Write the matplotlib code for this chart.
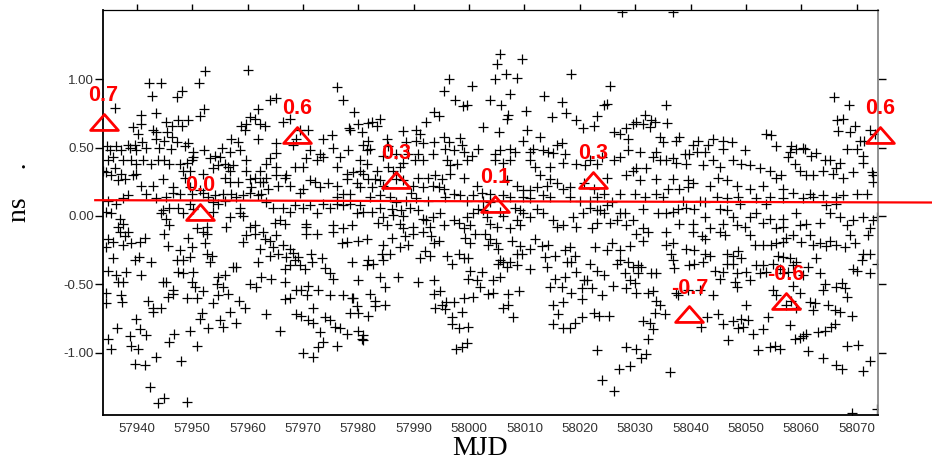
import numpy as np
import matplotlib
matplotlib.use('Agg')
import matplotlib.pyplot as plt
from matplotlib.path import Path
from matplotlib.ticker import MultipleLocator, FixedLocator, FormatStrFormatter

# ---- clock residuals (MJD, ns) ----
# MJD 57934-57981, upper part
mjd_1 = [
    57960.0, 57952.3, 57942.2, 57944.3, 57951.2, 57948.2, 57947.2, 57942.8, 57936.1, 57940.7,
    57943.5, 57952.2, 57951.4, 57945.3, 57946.4, 57947.5, 57948.1, 57949.3, 57940.7, 57939.3,
    57940.2, 57942.9, 57943.5, 57945.5, 57946.4, 57943.5, 57945.0, 57947.2, 57949.3, 57941.0,
    57939.6, 57938.7, 57938.4, 57936.3, 57934.6, 57935.1, 57937.2, 57939.9, 57941.7, 57944.1,
    57946.2, 57948.7, 57950.2, 57952.1, 57955.3, 57957.1, 57958.3, 57958.6, 57956.8, 57955.0,
    57954.1, 57953.2, 57950.2, 57949.9, 57949.0, 57947.8, 57945.9, 57945.0, 57943.8, 57942.6,
    57941.1, 57939.9, 57939.0, 57937.5, 57935.7, 57934.8, 57933.9, 57936.0, 57937.2, 57939.3,
    57939.9, 57937.8, 57936.6, 57935.4, 57934.5, 57940.8, 57942.9, 57944.7, 57946.6, 57946.6,
    57948.4, 57949.6, 57948.7, 57949.6, 57952.0, 57953.8, 57954.7, 57955.9, 57956.5, 57957.4,
    57959.8, 57956.8, 57955.9, 57956.8, 57958.3, 57959.8, 57961.3, 57962.2, 57960.4, 57960.7,
    57962.8, 57963.4, 57965.2, 57966.7, 57965.5, 57963.7, 57962.5, 57961.9, 57960.4, 57959.2,
    57958.0, 57957.1, 57955.6, 57954.1, 57952.9, 57952.0, 57951.4, 57949.9, 57947.8, 57945.3,
    57943.5, 57941.7, 57938.4, 57937.5, 57934.8, 57936.3, 57934.5, 57935.4, 57936.9, 57937.5,
    57936.6, 57945.9, 57945.3, 57944.4, 57944.7, 57945.9, 57947.5, 57948.4, 57949.6, 57950.2,
    57950.8, 57952.6, 57953.8, 57953.8, 57954.7, 57955.9, 57956.8, 57958.6, 57958.6, 57959.2,
    57960.4, 57961.3, 57956.2, 57963.4, 57964.6, 57966.4, 57967.6, 57968.5, 57964.9, 57965.8,
    57966.7, 57970.0, 57971.2, 57972.5, 57973.7, 57974.9, 57976.1, 57977.3, 57978.5, 57980.3,
    57979.7, 57978.8, 57977.3, 57975.5, 57970.6, 57970.6, 57964.0, 57965.2, 57961.9, 57960.4,
    57961.3, 57958.9, 57959.5, 57961.9, 57959.8, 57962.2, 57963.1, 57965.2, 57966.4, 57967.6,
    57969.4, 57970.9, 57968.8, 57968.2, 57971.2, 57973.1, 57973.7, 57976.1, 57977.2, 57979.2,
    57980.0, 57978.4, 57978.5, 57980.6, 57975.2, 57975.5, 57973.7, 57978.2, 57976.7, 57976.1,
    57977.9, 57979.1, 57980.3, 57980.3, 57972.5, 57970.6, 57970.0, 57968.5, 57967.0, 57965.2,
    57963.4, 57962.2, 57964.0, 57965.2, 57970.0, 57971.2, 57972.1, 57973.1, 57974.6, 57976.1,
    57977.9, 57979.7, 57977.3, 57976.1, 57978.5, 57980.3, 57967.6, 57969.4,
]
ns_1 = [
    1.07, 1.06, 0.97, 0.97, 0.97, 0.91, 0.87, 0.88, 0.79, 0.74,
    0.75, 0.78, 0.73, 0.69, 0.66, 0.70, 0.66, 0.70, 0.67, 0.65,
    0.60, 0.63, 0.61, 0.61, 0.58, 0.56, 0.55, 0.54, 0.53, 0.54,
    0.52, 0.50, 0.52, 0.51, 0.51, 0.48, 0.48, 0.48, 0.50, 0.50,
    0.49, 0.51, 0.47, 0.48, 0.50, 0.56, 0.54, 0.48, 0.47, 0.43,
    0.44, 0.42, 0.43, 0.41, 0.39, 0.38, 0.38, 0.41, 0.41, 0.38,
    0.41, 0.38, 0.41, 0.41, 0.43, 0.41, 0.33, 0.35, 0.31, 0.30,
    0.31, 0.27, 0.26, 0.30, 0.32, 0.22, 0.22, 0.27, 0.21, 0.17,
    0.33, 0.33, 0.28, 0.21, 0.31, 0.35, 0.37, 0.38, 0.36, 0.37,
    0.41, 0.33, 0.28, 0.25, 0.25, 0.33, 0.28, 0.25, 0.27, 0.21,
    0.25, 0.28, 0.30, 0.28, 0.22, 0.20, 0.16, 0.15, 0.17, 0.15,
    0.14, 0.16, 0.16, 0.15, 0.14, 0.17, 0.19, 0.16, 0.16, 0.14,
    0.13, 0.16, 0.15, 0.13, 0.11, 0.09, 0.03, 0.02, -0.02, -0.06,
    -0.08, -0.07, -0.02, 0.02, 0.04, 0.06, 0.06, 0.02, 0.09, 0.05,
    -0.09, -0.08, 0.03, 0.10, 0.09, 0.11, -0.01, 0.06, 0.02, 0.00,
    -0.08, -0.07, -0.08, 0.10, 0.06, 0.06, 0.03, 0.08, -0.05, -0.03,
    -0.06, 0.06, 0.08, 0.02, 0.09, 0.06, 0.09, 0.08, 0.09, 0.08,
    0.02, -0.07, -0.09, -0.07, -0.08, -0.06, 0.85, 0.86, 0.78, 0.72,
    0.71, 0.66, 0.63, 0.56, 0.67, 0.67, 0.66, 0.53, 0.69, 0.71,
    0.63, 0.63, 0.56, 0.52, 0.48, 0.45, 0.43, 0.94, 0.85, 0.76,
    0.67, 0.64, 0.63, 0.61, 0.59, 0.50, 0.56, 0.48, 0.43, 0.36,
    0.31, 0.32, 0.41, 0.33, 0.41, 0.42, 0.36, 0.36, 0.30, 0.36,
    0.38, 0.33, 0.42, 0.46, 0.20, 0.26, 0.25, 0.21, 0.24, 0.22,
    0.27, 0.24, 0.16, 0.14, 0.16, 0.21, 0.22, 0.17,
]

# MJD 57934-57981, lower part
mjd_2 = [
    57934.8, 57935.7, 57934.5, 57936.9, 57938.4, 57937.8, 57937.5, 57939.0, 57940.5, 57941.4,
    57945.0, 57949.3, 57952.0, 57952.6, 57952.3, 57945.6, 57947.8, 57949.9, 57952.6, 57953.5,
    57953.2, 57948.4, 57947.2, 57949.6, 57935.7, 57939.6, 57940.4, 57942.6, 57934.8, 57936.3,
    57938.1, 57940.8, 57936.6, 57937.5, 57944.7, 57945.3, 57947.5, 57948.4, 57950.2, 57949.9,
    57950.5, 57952.0, 57946.6, 57946.6, 57945.6, 57949.0, 57950.8, 57953.8, 57954.7, 57955.9,
    57954.4, 57955.6, 57954.7, 57956.5, 57958.5, 57959.5, 57957.4, 57958.0, 57961.9, 57960.4,
    57961.6, 57962.5, 57964.3, 57966.7, 57963.4, 57965.8, 57934.5, 57937.2, 57937.4, 57934.5,
    57942.0, 57942.9, 57944.4, 57942.9, 57939.9, 57936.4, 57940.5, 57941.7, 57938.7, 57934.8,
    57935.4, 57939.0, 57940.2, 57945.9, 57946.8, 57949.7, 57952.9, 57951.8, 57951.4, 57955.0,
    57955.6, 57956.8, 57958.0, 57939.6, 57941.4, 57943.4, 57947.9, 57950.9, 57942.3, 57944.9,
    57943.8, 57949.0, 57959.2, 57959.8, 57961.3, 57962.8, 57963.1, 57962.2, 57964.0, 57965.2,
    57964.6, 57966.4, 57967.6, 57964.0, 57965.5, 57967.0, 57968.2, 57969.1, 57968.5, 57971.5,
    57973.4, 57971.7, 57969.4, 57970.3, 57966.7, 57967.6, 57973.9, 57974.9, 57975.5, 57978.8,
    57980.0, 57970.6, 57972.5, 57975.5, 57977.0, 57977.9, 57980.0, 57968.8, 57969.7, 57970.9,
    57972.7, 57974.9, 57977.3, 57978.8, 57970.7, 57966.7, 57967.6, 57971.8, 57968.8, 57969.7,
    57970.9, 57971.8, 57973.9, 57974.9, 57975.8, 57976.7, 57977.9, 57973.1, 57980.0, 57980.0,
    57980.6, 57973.7, 57972.7, 57976.1, 57970.0, 57971.8, 57979.7, 57978.5, 57979.1,
]
ns_2 = [
    -0.17, -0.19, -0.23, -0.12, -0.12, -0.15, -0.21, -0.20, -0.19, -0.16,
    -0.13, -0.16, -0.12, -0.13, -0.20, -0.22, -0.25, -0.23, -0.28, -0.29,
    -0.34, -0.32, -0.32, -0.30, -0.31, -0.32, -0.30, -0.34, -0.40, -0.43,
    -0.41, -0.43, -0.48, -0.48, -0.48, -0.48, -0.41, -0.42, -0.41, -0.48,
    -0.52, -0.55, -0.54, -0.57, -0.59, -0.60, -0.60, -0.64, -0.45, -0.43,
    -0.50, -0.52, -0.58, -0.57, -0.62, -0.67, -0.37, -0.37, -0.34, -0.50,
    -0.52, -0.45, -0.46, -0.48, -0.72, -0.84, -0.56, -0.58, -0.63, -0.64,
    -0.62, -0.67, -0.67, -0.70, -0.75, -0.82, -0.83, -0.87, -0.88, -0.90,
    -0.97, -0.95, -0.97, -0.92, -0.86, -0.84, -0.82, -0.71, -0.75, -0.76,
    -0.81, -0.70, -0.78, -1.08, -1.09, -1.03, -1.06, -0.95, -1.25, -1.33,
    -1.37, -1.36, -0.19, -0.14, -0.13, -0.12, -0.17, -0.24, -0.18, -0.14,
    -0.23, -0.21, -0.24, -0.29, -0.28, -0.30, -0.27, -0.30, -0.32, -0.28,
    -0.31, -0.34, -0.36, -0.39, -0.39, -0.36, -0.38, -0.42, -0.46, -0.34,
    -0.47, -0.13, -0.13, -0.12, -0.20, -0.19, -0.18, -0.54, -0.54, -0.51,
    -0.54, -0.58, -0.58, -0.60, -0.58, -0.61, -0.60, -0.67, -0.72, -0.73,
    -0.76, -0.78, -0.74, -0.76, -0.81, -0.82, -0.86, -0.85, -0.71, -0.84,
    -0.90, -0.92, -0.96, -0.95, -1.00, -1.03, -0.66, -0.71, -0.60,
]

# MJD 57981-58028, upper part
mjd_3 = [
    58005.0, 58006.7, 58004.7, 58008.7, 58018.5, 57996.4, 58000.5, 57995.5, 58007.4, 58003.8,
    58013.6, 58025.5, 57997.5, 57998.9, 57999.6, 57993.7, 57994.5, 57992.2, 58005.8, 58010.3,
    58007.0, 58006.8, 58016.7, 58017.5, 58015.0, 58024.9, 58024.3, 58023.1, 58019.4, 58020.6,
    58022.5, 58026.1, 58027.3, 57982.4, 57983.9, 57983.4, 57981.8, 58002.6, 58005.5, 58010.5,
    57988.1, 57990.5, 57991.1, 57988.7, 57985.1, 57985.4, 57990.4, 57991.7, 57993.6, 57996.3,
    57998.4, 57998.7, 57995.7, 57997.2, 58001.7, 57999.0, 58000.5, 58004.7, 58004.7, 58005.6,
    58007.4, 58008.3, 58009.8, 58011.0, 58011.6, 58013.4, 58014.3, 58015.8, 58016.7, 58015.2,
    58017.3, 57995.4, 58012.8, 57981.7, 57980.9, 57981.5, 57982.1, 57984.5, 57986.9, 57989.0,
    57990.2, 57988.1, 57990.8, 57991.7, 57993.5, 57996.0, 57997.8, 57996.6, 57999.6, 58006.2,
    58007.4, 58011.0, 58011.9, 58014.6, 58017.0, 58019.4, 58020.9, 58021.9, 58023.1, 58024.0,
    58026.1, 58027.3, 57981.5, 57983.3, 57985.4, 57986.3, 57987.5, 57983.0, 57980.9, 57981.8,
    57982.4, 57984.5, 57986.9, 57988.1, 57989.9, 57990.8, 57992.6, 57993.8, 57995.1, 57996.6,
    57994.5, 57995.4, 57997.2, 57998.4, 57995.7, 57993.5, 57999.0, 58001.4, 58002.3, 58003.8,
    58006.8, 58008.6, 58009.8, 58011.0, 58012.2, 58012.8, 58014.6, 58014.0, 58015.8, 58017.0,
    58018.2, 58020.7, 58022.5, 58024.3, 58024.9, 58027.3, 57983.9, 57989.6, 57991.7, 58006.2,
    58007.4, 58009.8, 58011.0, 58013.4, 58014.6, 58018.2, 58020.1, 58021.9, 58023.1, 58025.8,
    57982.1, 57983.9, 57985.7, 57986.9, 57988.7, 57990.5, 57992.6, 57999.6, 58000.8, 58002.6,
    58003.8, 57983.9, 57982.4, 57980.9, 57986.0, 57987.8, 57988.1, 57986.3, 57984.5, 57983.6,
    57989.3, 57990.8, 57991.7, 57992.3, 57992.9, 57993.5, 57994.8, 57997.2, 57998.1, 57999.6,
    58000.8, 58001.7, 58002.6, 58003.2, 58003.8, 58005.6, 58006.2, 58008.3, 58009.2, 58009.8,
    58008.6, 58009.2, 58011.0, 58012.2, 58013.4, 58015.2, 58015.8, 58017.0, 58018.8, 58020.6,
    58021.9, 58023.1, 58024.3, 58023.1, 58023.7, 58024.9, 58025.5, 58026.7, 58027.3, 58019.4,
    58022.2, 58007.4, 58005.0, 57999.0, 58000.2, 57995.4, 57989.9, 57988.1, 57987.5, 57985.1,
    58005.6, 58009.5, 58027.6, 58036.9,
]
ns_3 = [
    1.11, 1.04, 1.00, 1.01, 1.04, 1.00, 0.95, 0.91, 0.89, 0.85,
    0.88, 0.95, 0.85, 0.80, 0.81, 0.76, 0.73, 0.69, 0.81, 0.77,
    0.74, 0.71, 0.83, 0.75, 0.72, 0.82, 0.81, 0.73, 0.70, 0.64,
    0.66, 0.61, 0.60, 0.69, 0.71, 0.66, 0.68, 0.65, 0.61, 0.63,
    0.62, 0.63, 0.60, 0.54, 0.56, 0.51, 0.55, 0.53, 0.54, 0.54,
    0.57, 0.52, 0.49, 0.48, 0.49, 0.47, 0.44, 0.45, 0.41, 0.48,
    0.49, 0.47, 0.55, 0.47, 0.49, 0.48, 0.47, 0.52, 0.53, 0.46,
    0.45, 0.58, 0.58, 0.55, 0.52, 0.48, 0.49, 0.44, 0.45, 0.45,
    0.41, 0.39, 0.45, 0.41, 0.45, 0.41, 0.38, 0.37, 0.41, 0.39,
    0.41, 0.41, 0.36, 0.36, 0.39, 0.38, 0.37, 0.41, 0.38, 0.43,
    0.41, 0.43, 0.38, 0.33, 0.36, 0.33, 0.36, 0.27, 0.31, 0.27,
    0.21, 0.22, 0.27, 0.26, 0.22, 0.28, 0.28, 0.30, 0.27, 0.31,
    0.21, 0.20, 0.16, 0.15, 0.14, 0.22, 0.28, 0.22, 0.17, 0.16,
    0.26, 0.22, 0.19, 0.19, 0.21, 0.30, 0.27, 0.22, 0.24, 0.20,
    0.21, 0.24, 0.20, 0.16, 0.28, 0.16, 0.26, 0.17, 0.21, 0.15,
    0.14, 0.14, 0.13, 0.15, 0.14, 0.14, 0.11, 0.11, 0.14, 0.10,
    0.14, 0.15, 0.14, 0.10, 0.11, 0.13, 0.11, 0.11, 0.15, 0.11,
    0.10, 0.06, 0.03, 0.03, 0.05, 0.04, 0.00, 0.01, -0.01, -0.05,
    0.06, 0.04, -0.02, -0.03, -0.08, -0.01, 0.02, -0.03, -0.05, -0.01,
    0.02, 0.05, 0.04, -0.01, -0.06, 0.03, 0.00, 0.06, 0.04, 0.02,
    -0.03, -0.07, -0.01, 0.05, 0.02, -0.03, -0.08, -0.07, -0.01, 0.02,
    0.06, 0.04, 0.02, -0.05, 0.04, 0.08, -0.05, -0.03, 0.02, -0.08,
    -0.09, -0.09, -0.08, -0.09, -0.07, -0.07, -0.08, -0.09, -0.06, -0.07,
    1.18, 1.15, 1.49, 1.49,
]

# MJD 57981-58028, lower part
mjd_4 = [
    57981.5, 57984.5, 57986.0, 57987.5, 57989.0, 57988.4, 57989.9, 57991.7, 57993.2, 57994.5,
    57993.6, 57992.0, 57992.9, 57991.1, 57985.8, 57984.2, 57984.5, 57981.8, 57982.7, 57981.5,
    57996.0, 57996.9, 57998.1, 57999.0, 57999.9, 57999.3, 58000.2, 58001.1, 58002.9, 58003.8,
    58003.5, 58004.9, 58005.3, 58007.7, 58009.2, 58009.5, 58008.6, 58011.0, 58011.9, 58013.1,
    58014.3, 58005.6, 58006.2, 58007.4, 58005.3, 58006.8, 58008.6, 58011.0, 58014.0, 58013.7,
    58015.5, 58017.3, 58018.2, 58019.1, 58017.6, 58018.5, 58021.9, 58022.8, 58024.9, 58025.8,
    58027.3, 58026.7, 58027.3, 58023.1, 58024.3, 58026.0, 58024.0, 58022.2, 58020.7, 58021.3,
    58020.4, 58019.4, 58017.3, 58015.5, 58016.7, 58018.5, 58014.6, 58020.4, 58017.0, 58015.1,
    58016.1, 58015.2, 58017.0, 58018.2, 58019.1, 58020.4, 58022.5, 58023.4, 58025.2, 58023.1,
    58027.0, 58024.0, 58026.1, 58000.2, 58002.3, 57999.9, 58001.4, 58002.0, 58004.4, 58005.6,
    58003.5, 58004.4, 58007.1, 58009.1, 58007.1, 58006.2, 58008.0, 58000.8, 57999.0, 57997.2,
    57995.8, 57995.1, 57993.8, 57995.7, 57994.8, 57993.6, 57998.7, 57996.9, 57996.9, 57998.1,
    57999.9, 57999.6, 57998.7, 57997.6, 57990.8, 57993.6, 57987.2, 57983.9, 57984.8, 57982.1,
    57983.0, 57983.0, 57984.8, 57981.8, 57980.9, 57980.9,
]
ns_4 = [
    -0.17, -0.21, -0.16, -0.23, -0.21, -0.15, -0.13, -0.12, -0.15, -0.18,
    -0.20, -0.26, -0.29, -0.31, -0.28, -0.28, -0.32, -0.32, -0.35, -0.36,
    -0.29, -0.35, -0.28, -0.31, -0.31, -0.16, -0.20, -0.13, -0.13, -0.17,
    -0.21, -0.20, -0.24, -0.18, -0.22, -0.28, -0.28, -0.24, -0.17, -0.22,
    -0.21, -0.32, -0.34, -0.34, -0.35, -0.37, -0.36, -0.39, -0.37, -0.30,
    -0.29, -0.25, -0.23, -0.29, -0.34, -0.34, -0.35, -0.23, -0.25, -0.20,
    -0.25, -0.35, -0.32, -0.40, -0.43, -0.51, -0.58, -0.53, -0.47, -0.47,
    -0.53, -0.41, -0.45, -0.46, -0.52, -0.56, -0.52, -0.61, -0.63, -0.65,
    -0.72, -0.79, -0.82, -0.82, -0.78, -0.74, -0.71, -0.73, -0.73, -0.98,
    -1.12, -1.20, -1.28, -0.40, -0.41, -0.46, -0.47, -0.52, -0.47, -0.45,
    -0.57, -0.56, -0.57, -0.55, -0.65, -0.67, -0.74, -0.59, -0.60, -0.63,
    -0.63, -0.65, -0.67, -0.68, -0.55, -0.57, -0.70, -0.74, -0.79, -0.82,
    -0.81, -0.93, -0.96, -0.97, -0.48, -0.47, -0.45, -0.45, -0.52, -0.57,
    -0.62, -0.66, -0.65, -0.73, -0.87, -0.91,
]

# MJD 58028-58074, upper part
mjd_5 = [
    58065.9, 58068.6, 58066.4, 58067.6, 58069.7, 58066.7, 58068.8, 58070.6, 58072.4, 58073.3,
    58071.3, 58035.6, 58035.8, 58031.7, 58030.2, 58029.6, 58031.4, 58032.9, 58033.5, 58032.6,
    58028.4, 58028.7, 58034.4, 58035.0, 58038.0, 58037.4, 58041.4, 58043.2, 58044.1, 58045.9,
    58047.4, 58045.9, 58049.8, 58040.5, 58039.0, 58041.1, 58042.6, 58053.7, 58054.6, 58055.5,
    58058.2, 58060.3, 58060.6, 58057.9, 58057.6, 58059.1, 58061.8, 58062.7, 58065.1, 58066.9,
    58064.2, 58066.3, 58065.7, 58067.6, 58069.4, 58071.2, 58072.7, 58070.0, 58071.2, 58068.2,
    58028.7, 58030.8, 58033.8, 58033.2, 58034.4, 58035.6, 58036.8, 58037.4, 58039.2, 58039.8,
    58044.1, 58042.3, 58045.3, 58047.7, 58049.2, 58050.7, 58052.5, 58054.3, 58056.4, 58055.5,
    58058.8, 58059.7, 58060.9, 58062.1, 58063.9, 58030.2, 58032.0, 58029.6, 58028.4, 58030.8,
    58033.8, 58036.8, 58039.5, 58040.5, 58043.5, 58045.0, 58046.5, 58048.3, 58050.7, 58053.1,
    58054.3, 58056.7, 58058.5, 58061.5, 58063.9, 58066.3, 58067.6, 58070.0, 58071.8, 58073.0,
    58073.0, 58029.9, 58031.7, 58033.8, 58035.0, 58035.9, 58038.0, 58039.5, 58038.6, 58041.7,
    58042.6, 58044.7, 58046.5, 58048.6, 58051.9, 58053.7, 58056.7, 58060.3, 58062.1, 58064.5,
    58066.3, 58028.1, 58029.6, 58031.4, 58034.1, 58035.6, 58036.8, 58037.7, 58039.2, 58040.7,
    58042.6, 58045.3, 58046.5, 58048.9, 58050.7, 58051.9, 58053.1, 58054.3, 58056.7, 58059.1,
    58059.7, 58060.9, 58063.3, 58065.1, 58066.9, 58068.2, 58069.4, 58071.2, 58073.0, 58073.7,
    58028.4, 58031.4, 58038.0, 58040.5, 58043.5, 58045.9, 58047.7, 58048.3, 58049.8, 58055.5,
    58056.7, 58072.4,
]
ns_5 = [
    0.87, 0.81, 0.70, 0.71, 0.66, 0.62, 0.61, 0.55, 0.63, 0.60,
    0.55, 0.81, 0.68, 0.74, 0.69, 0.67, 0.67, 0.70, 0.69, 0.65,
    0.64, 0.56, 0.58, 0.54, 0.58, 0.55, 0.55, 0.52, 0.56, 0.49,
    0.54, 0.55, 0.48, 0.52, 0.45, 0.47, 0.47, 0.60, 0.59, 0.51,
    0.51, 0.50, 0.49, 0.47, 0.43, 0.49, 0.44, 0.46, 0.41, 0.39,
    0.41, 0.35, 0.31, 0.28, 0.32, 0.39, 0.32, 0.49, 0.44, 0.49,
    0.48, 0.47, 0.47, 0.43, 0.41, 0.41, 0.42, 0.39, 0.38, 0.45,
    0.41, 0.37, 0.36, 0.41, 0.38, 0.37, 0.35, 0.33, 0.30, 0.28,
    0.38, 0.33, 0.30, 0.30, 0.33, 0.35, 0.35, 0.33, 0.30, 0.26,
    0.27, 0.27, 0.26, 0.24, 0.22, 0.28, 0.26, 0.22, 0.20, 0.22,
    0.14, 0.20, 0.17, 0.16, 0.15, 0.14, 0.15, 0.16, 0.16, 0.30,
    0.25, 0.16, 0.14, 0.16, 0.14, 0.20, 0.20, 0.21, 0.11, 0.11,
    0.10, 0.14, 0.13, 0.14, 0.13, 0.09, 0.13, 0.13, 0.14, 0.08,
    0.09, 0.02, -0.03, 0.05, 0.02, 0.02, 0.03, 0.05, 0.06, 0.05,
    -0.01, 0.05, 0.04, 0.09, -0.01, 0.02, -0.05, -0.02, -0.02, 0.02,
    -0.07, -0.06, -0.05, 0.02, -0.01, -0.07, -0.03, -0.01, -0.03, -0.01,
    -0.07, -0.09, -0.06, -0.06, -0.09, -0.06, -0.01, -0.07, -0.08, -0.09,
    -0.08, -0.09,
]

# MJD 58028-58074, lower part
mjd_6 = [
    58030.2, 58032.3, 58035.6, 58031.4, 58029.0, 58035.6, 58036.8, 58040.5, 58042.0, 58045.3,
    58046.2, 58042.6, 58039.2, 58040.7, 58036.5, 58036.8, 58037.1, 58032.9, 58033.8, 58029.6,
    58031.1, 58028.7, 58028.1, 58030.5, 58029.0, 58029.9, 58028.4, 58030.2, 58032.3, 58033.2,
    58030.5, 58039.8, 58040.7, 58042.3, 58043.5, 58042.6, 58044.4, 58045.9, 58045.3, 58046.5,
    58047.7, 58048.6, 58046.5, 58049.2, 58047.7, 58048.3, 58050.1, 58050.7, 58048.0, 58048.3,
    58044.1, 58041.7, 58039.5, 58037.4, 58037.7, 58033.8, 58034.4, 58033.5, 58035.3, 58031.4,
    58032.6, 58033.2, 58032.3, 58028.4, 58030.2, 58032.0, 58031.1, 58029.0, 58036.2, 58041.8,
    58042.9, 58045.0, 58045.9, 58047.7, 58049.2, 58048.6, 58049.5, 58050.4, 58051.3, 58053.1,
    58054.0, 58050.1, 58046.8, 58052.2, 58054.3, 58055.2, 58056.1, 58057.9, 58058.8, 58060.3,
    58059.7, 58060.9, 58061.5, 58062.4, 58064.8, 58062.1, 58063.0, 58064.2, 58065.4, 58066.1,
    58067.0, 58069.1, 58061.2, 58063.9, 58066.3, 58067.3, 58068.2, 58070.3, 58072.4, 58071.1,
    58073.6, 58069.1, 58050.7, 58051.6, 58053.1, 58054.6, 58055.5, 58056.7, 58057.3, 58058.5,
    58060.0, 58062.1, 58063.3, 58064.5, 58065.1, 58066.3, 58067.9, 58069.7, 58071.2, 58072.4,
    58070.9, 58069.4, 58070.0, 58072.4, 58073.6, 58072.1, 58068.8, 58061.5, 58056.7, 58057.9,
    58055.8, 58054.9, 58053.1, 58051.9, 58052.5, 58053.7, 58056.1, 58058.5, 58059.1, 58062.7,
    58063.3, 58061.2, 58060.3, 58058.5, 58059.7, 58058.2, 58057.3, 58059.1, 58064.2, 58063.9,
    58066.3, 58067.3, 58067.9, 58068.2, 58066.1, 58055.5, 58054.9, 58056.7, 58057.6,
]
ns_6 = [
    -0.13, -0.12, -0.12, -0.18, -0.22, -0.21, -0.20, -0.12, -0.15, -0.12,
    -0.14, -0.17, -0.24, -0.25, -0.28, -0.32, -0.38, -0.42, -0.42, -0.37,
    -0.37, -0.34, -0.42, -0.42, -0.47, -0.49, -0.53, -0.56, -0.56, -0.55,
    -0.36, -0.36, -0.35, -0.34, -0.29, -0.28, -0.40, -0.41, -0.46, -0.35,
    -0.29, -0.26, -0.28, -0.31, -0.35, -0.42, -0.41, -0.47, -0.48, -0.52,
    -0.58, -0.54, -0.54, -0.56, -0.58, -0.62, -0.65, -0.71, -0.72, -0.77,
    -0.78, -0.83, -0.90, -0.96, -0.97, -1.01, -1.04, -1.10, -1.14, -0.81,
    -0.74, -0.72, -0.79, -0.77, -0.75, -0.82, -0.81, -0.76, -0.86, -0.83,
    -0.74, -0.65, -0.91, -0.98, -0.96, -0.95, -0.97, -0.80, -0.90, -0.88,
    -0.89, -0.86, -0.63, -0.64, -0.65, -0.69, -0.85, -0.84, -0.81, -0.79,
    -0.70, -0.73, -0.99, -1.04, -1.09, -1.12, -0.95, -0.94, -1.06, -1.13,
    -1.41, -1.44, -0.14, -0.21, -0.21, -0.21, -0.20, -0.19, -0.16, -0.14,
    -0.19, -0.21, -0.20, -0.22, -0.18, -0.21, -0.23, -0.20, -0.28, -0.28,
    -0.32, -0.39, -0.40, -0.42, -0.35, -0.14, -0.14, -0.14, -0.30, -0.31,
    -0.29, -0.35, -0.36, -0.36, -0.42, -0.41, -0.39, -0.36, -0.34, -0.31,
    -0.42, -0.37, -0.43, -0.51, -0.56, -0.62, -0.65, -0.67, -0.50, -0.54,
    -0.52, -0.49, -0.53, -0.59, -0.69, -0.58, -0.54, -0.42, -0.41,
]

# linear fit through the residuals
fit_mjd = [57932.5, 58083.6]
fit_ns = [0.115, 0.098]

# marked epochs and their values
mark_mjd = [57934.0, 57951.4, 57968.9, 57986.8, 58004.7, 58022.4, 58039.8, 58057.2, 58074.2]
mark_ns = [0.69, 0.03, 0.59, 0.26, 0.09, 0.26, -0.72, -0.62, 0.59]

y_ticks = [-1.0, -0.5, 0.0, 0.5, 1.0]

plt.rcParams['axes.unicode_minus'] = False

mjd = np.concatenate([mjd_1, mjd_2, mjd_3, mjd_4, mjd_5, mjd_6])
ns = np.concatenate([ns_1, ns_2, ns_3, ns_4, ns_5, ns_6])
assert len(mjd) == len(ns)

fig = plt.figure(figsize=(9.32, 4.61), dpi=100)
ax = fig.add_axes([103 / 932, 46 / 461, 775 / 932, 405 / 461])

ax.plot(mjd, ns, linestyle='none', marker='+', markersize=7.5,
        markeredgewidth=0.9, color='black', zorder=2)

ax.plot(fit_mjd, fit_ns, color='#ff0000', linewidth=1.6, clip_on=False, zorder=3)

# flattened open triangle
tri = Path([(0, 1), (-1.75, -1), (1.75, -1), (0, 1)],
           [Path.MOVETO, Path.LINETO, Path.LINETO, Path.CLOSEPOLY])
ax.plot(mark_mjd, mark_ns, linestyle='none', marker=tri, markersize=20,
        markerfacecolor='none', markeredgecolor='#ff0000', markeredgewidth=2.0,
        clip_on=False, zorder=4)
for x, v in zip(mark_mjd, mark_ns):
    ax.annotate(f'{v:.1f}', (x, v), xytext=(0, 19), textcoords='offset points',
                ha='center', va='center', color='#ff0000', fontsize=15.5,
                fontweight='bold', family='Liberation Sans',
                annotation_clip=False, zorder=5)

ax.set_xlim(57933.9, 58073.85)
ax.set_ylim(-1.455, 1.505)
ax.xaxis.set_major_locator(MultipleLocator(10))
ax.yaxis.set_major_locator(FixedLocator(y_ticks))
ax.yaxis.set_major_formatter(FormatStrFormatter('%.2f'))

ax.tick_params(axis='y', direction='out', length=5.5, width=1.0,
               left=True, right=True, labelleft=True, labelright=False,
               labelsize=9.5, labelcolor='#333333', pad=1)
ax.tick_params(axis='x', direction='out', length=4, width=1.0,
               top=True, bottom=False, labeltop=False, labelbottom=True,
               labelsize=9.5, labelcolor='#333333', pad=2)
for lab in ax.get_xticklabels() + ax.get_yticklabels():
    lab.set_family('Liberation Sans')

for side in ['left', 'bottom']:
    ax.spines[side].set_linewidth(1.3)
ax.spines['top'].set_linewidth(0.9)
ax.spines['right'].set_linewidth(1.3)
ax.spines['right'].set_color('#888888')

fig.text(480 / 932, 1 - 455 / 461, 'MJD', ha='center', va='baseline',
         family='Liberation Serif', fontsize=20)
fig.text(26 / 932, 1 - 192 / 461, 'ns    .', rotation=90, rotation_mode='anchor',
         ha='center', va='baseline', family='Liberation Serif', fontsize=20)

fig.savefig('out.png', dpi=100, facecolor='white')
